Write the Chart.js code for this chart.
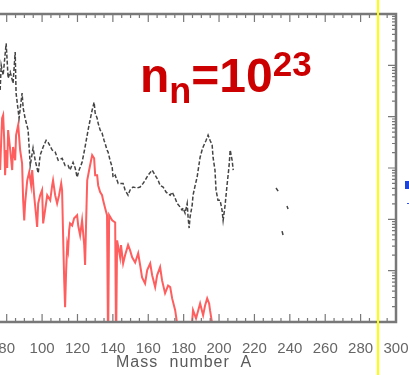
<!DOCTYPE html>
<html>
<head>
<meta charset="utf-8">
<script src="https://cdn.jsdelivr.net/npm/chart.js@4.4.0/dist/chart.umd.min.js"></script>
<style>
  html, body { margin: 0; padding: 0; background: #fff; }
  #wrap { position: relative; width: 409px; height: 375px; overflow: hidden; }
  #plot { position: absolute; left: -40px; top: 0; }
  #nn { position: absolute; left: 140px; top: 52px; color: #cc0000; font: bold 48px "Liberation Sans", Arial, sans-serif; line-height: 48px; white-space: nowrap; }
  #nn .sub { font-size: 36px; position: relative; top: 11px; }
  #nn .sup { font-size: 35px; position: relative; top: -16px; }
  #xtitle { position: absolute; left: 113px; width: 142px; top: 353px; text-align: center; color: #5a5a5a; font: 16px "Liberation Sans", Arial, sans-serif; letter-spacing: 1px; word-spacing: 6px; white-space: nowrap; }
  #cut { position: absolute; left: 377px; top: 0; width: 2px; height: 375px; background: #ffff00; }
  #edge { position: absolute; left: 405px; top: 181px; width: 4px; height: 8px; background: #1f44d8; }
  #edge2 { position: absolute; left: 407px; top: 203px; width: 2px; height: 1px; background: #3355dd; }
</style>
</head>
<body>
<div id="wrap">
  <canvas id="plot" width="449" height="375"></canvas>
  <div id="nn">n<span class="sub">n</span>=10<span class="sup">23</span></div>
  <div id="xtitle">Mass number A</div>
  <div id="cut"></div>
  <div id="edge"></div>
  <div id="edge2"></div>
</div>
<script>
// mass number ticks on the x axis
const massTicks = [80, 100, 120, 140, 160, 180, 200, 220, 240, 260, 280, 300];

// solar r-process abundances (log10), null = break in the curve
const solarA = [76.3, 76.9, 78.0, 79.7, 80.8, 82.0, 83.6, 84.8, 85.3, 87.0, 88.7, 89.3, 90.4, 92.1, 93.3, 94.9,
  96.1, 97.8, 98.9, 100.6, 102.3, 103.4, 105.7, 107.4, 109.1, 111.3, 113.0, 114.7, 115.8, 117.5, 118.7, 119.8,
  120.9, 122.6, 124.3, 126.0, 127.1, 128.3, 129.4, 130.0, 131.1, 131.7, 132.8, 133.9, 135.0, 135.6, 136.7, 137.3,
  138.4, 139.6, 140.1, 141.3, 143.0, 144.6, 145.8, 146.9, 148.6, 149.7, 151.4, 153.7, 155.4, 157.1, 158.2, 159.9,
  162.2, 163.9, 165.6, 166.7, 168.4, 170.1, 172.4, 173.5, 175.2, 176.3, 178.0, 179.1, 179.7, 180.8, 182.0, 182.5,
  183.1, 183.6, 184.8, 185.3, 186.5, 187.6, 189.3, 190.4, 191.0, 192.7, 193.8, 194.9, 196.1, 196.6, 197.7, 198.3,
  199.4, 200.6, 201.7, 202.3, 203.4, 204.5, 205.7, 206.3, 207.4, 208.0,
  220, 232.2, 233.4, 234.5, 235.6, 236.2, 237.3, 238.4, 239.0];
const solarLog = [-1.48, -1.00, -1.19, -0.57, -1.25, -1.13, -1.35, -0.74, -1.54, -2.03, -1.54, -1.83, -2.03, -2.26, -2.95, -2.61,
  -2.85, -3.10, -2.75, -2.59, -2.46, -2.50, -2.65, -2.69, -2.85, -2.81, -2.95, -2.95, -3.04, -2.89, -3.00, -3.18,
  -3.04, -2.89, -2.59, -2.26, -2.07, -1.87, -1.72, -1.93, -2.03, -2.13, -2.26, -2.32, -2.46, -2.52, -2.65, -2.69,
  -2.85, -2.98, -3.18, -3.14, -3.30, -3.30, -3.30, -3.43, -3.53, -3.43, -3.37, -3.39, -3.37, -3.30, -3.24, -3.14,
  -3.04, -3.14, -3.24, -3.34, -3.37, -3.47, -3.53, -3.47, -3.59, -3.69, -3.76, -3.82, -3.78, -3.88, -3.69, -3.96,
  -4.17, -3.96, -3.73, -3.53, -3.34, -3.18, -2.79, -2.65, -2.59, -2.46, -2.36, -2.46, -2.55, -2.79, -3.04, -3.43,
  -3.63, -3.63, -3.82, -4.02, -3.73, -3.34, -2.95, -2.65, -2.85, -3.04,
  null, -3.39, -3.45, null, -4.23, -4.31, null, -3.74, -3.80];

// calculated abundances for n_n = 1e23 (log10), -6.5 drops below the axis
const calcA = [76.3, 76.9, 77.4, 78.0, 78.6, 79.1, 79.7, 80.3, 80.8, 82.0, 83.1, 83.6, 84.8, 85.3, 86.5, 87.6,
  88.7, 89.3, 89.9, 90.4, 91.6, 92.7, 93.8, 94.4, 95.5, 96.6, 97.2, 97.8, 98.9, 100.0, 100.6, 101.7, 102.9,
  104.6, 105.7, 106.2, 107.4, 108.5, 109.6, 110.8, 111.3, 111.9, 112.5, 113.0, 113.6, 114.2, 114.7, 115.3, 115.8,
  117.0, 118.1, 119.8, 120.4, 121.5, 122.6, 123.8, 124.3, 124.9, 125.5, 126.6, 127.7, 128.3, 129.4, 130.0, 131.1,
  131.7, 132.8, 133.9, 134.5, 135.6, 136.7, 137.3, 137.9, 139.6, 141.3, 141.8, 142.4, 144.1, 144.6, 145.8, 146.9,
  148.6, 149.7, 150.9, 152.6, 154.3, 155.4, 156.5, 158.2, 159.4, 161.1, 162.2, 163.9, 165.0, 166.7, 167.8, 169.5,
  171.2, 172.4, 173.5, 175.2, 176.3, 176.9,
  180, 183.6, 185.3, 187.0, 189.3, 191.0, 192.1, 193.3, 194.4, 194.9, 196.1, 196.6];
const calcLog = [-3.04, -2.46, -2.03, -1.97, -2.46, -3.14, -2.65, -3.00, -2.26, -2.65, -3.04, -2.59, -2.85, -2.36, -2.16, -2.65,
  -2.91, -3.63, -4.02, -3.69, -3.24, -3.08, -3.34, -3.04, -3.53, -3.92, -4.15, -3.69, -3.53, -3.43, -4.08, -3.82, -3.53,
  -3.63, -3.34, -3.24, -3.53, -3.69, -3.53, -3.30, -3.43, -4.35, -5.19, -5.71, -4.99, -4.50, -4.60, -4.21, -4.08,
  -4.12, -3.98, -3.92, -4.12, -4.31, -4.02, -4.50, -4.89, -4.02, -3.24, -3.04, -2.85, -2.75, -2.81, -3.14, -3.14,
  -3.34, -3.47, -3.53, -3.63, -3.78, -3.92, -6.5, -3.92, -4.02, -4.06, -6.5, -4.41, -4.74, -4.50, -4.86, -4.70,
  -4.50, -4.60, -4.74, -4.84, -4.66, -4.89, -5.13, -5.25, -4.99, -4.86, -5.09, -5.32, -5.09, -4.93, -5.19, -5.44,
  -5.29, -5.32, -5.54, -5.77, -6.03, -6.5,
  null, -6.5, -5.77, -5.93, -5.64, -5.87, -5.68, -5.54, -5.64, -5.77, -6.03, -6.5];

const toPoints = (xs, logs) => xs.map((a, i) => ({ x: a, y: logs[i] == null ? null : 10 ** logs[i] }));

// box frame with inward ticks, like the old plotting packages
const framePlugin = {
  id: 'frame',
  afterDatasetsDraw(chart) {
    const { ctx, chartArea: a, scales: { x, y } } = chart;
    ctx.save();
    ctx.strokeStyle = '#787878';
    ctx.lineWidth = 1.2;
    ctx.beginPath();
    for (let v = 70; v <= 300; v += 5) {
      const px = x.getPixelForValue(v);
      const len = v % 20 === 0 ? 8 : 4;
      ctx.moveTo(px, a.bottom); ctx.lineTo(px, a.bottom - len);
      ctx.moveTo(px, a.top); ctx.lineTo(px, a.top + len);
    }
    for (let d = -6; d < 0; d++) {
      for (let m = 1; m < 10; m++) {
        const py = y.getPixelForValue(m * 10 ** d);
        const len = m === 1 ? 8 : 4;
        ctx.moveTo(a.right, py); ctx.lineTo(a.right - len, py);
      }
    }
    ctx.stroke();
    ctx.lineWidth = 2.5;
    ctx.strokeRect(a.left, a.top, a.right - a.left, a.bottom - a.top);
    ctx.restore();
  }
};

new Chart(document.getElementById('plot'), {
  type: 'line',
  data: {
    datasets: [
      {
        label: 'solar',
        data: toPoints(solarA, solarLog),
        borderColor: '#444',
        borderWidth: 1.5,
        borderDash: [4, 2],
        pointRadius: 0,
        tension: 0
      },
      {
        label: 'n_n = 1e23',
        data: toPoints(calcA, calcLog),
        borderColor: 'rgba(255, 40, 40, 0.75)',
        borderWidth: 2,
        pointRadius: 0,
        tension: 0
      }
    ]
  },
  options: {
    responsive: false,
    animation: false,
    devicePixelRatio: 1,
    layout: { padding: { left: 29, right: 13, top: 14, bottom: 0 } },
    plugins: { legend: { display: false }, tooltip: { enabled: false } },
    scales: {
      x: {
        type: 'linear',
        min: 70,
        max: 300,
        grid: { display: false },
        border: { display: false },
        afterBuildTicks: s => { s.ticks = massTicks.map(v => ({ value: v })); },
        afterFit: s => { s.height = 53; s.paddingLeft = 0; s.paddingRight = 0; },
        ticks: {
          color: '#666',
          font: { family: 'Liberation Sans', size: 15 },
          padding: 10,
          maxRotation: 0,
          autoSkip: false
        }
      },
      y: {
        type: 'logarithmic',
        min: 1e-6,
        max: 1,
        display: false
      }
    }
  },
  plugins: [framePlugin]
});
</script>
</body>
</html>
